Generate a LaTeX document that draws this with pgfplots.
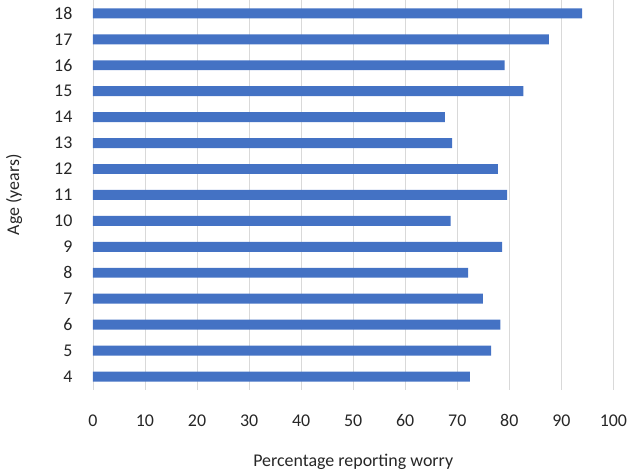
\documentclass[border=0pt]{standalone}
\usepackage{pgfplots}
\pgfplotsset{compat=1.18}
\usepackage{fontspec}
\setmainfont{Carlito}
\definecolor{barblue}{HTML}{4472C4}
\definecolor{gridgray}{HTML}{D9D9D9}
\begin{document}
\fontsize{18}{21}\selectfont
\begin{tikzpicture}
\begin{axis}[
  scale only axis,
  width=523pt, height=391pt,
  xbar,
  bar width=10pt,
  xmin=0, xmax=100,
  ymin=3.5, ymax=18.5,
  xtick={0,10,...,100},
  ytick={4,...,18},
  xmajorgrids,
  grid style={gridgray, line width=0.8pt},
  axis lines=left,
  axis line style={gridgray, line width=0.8pt, -},
  x axis line style={draw=none},
  major tick length=0pt,
  /pgf/number format/assume math mode=true,
  ticklabel style={font=\fontsize{18}{21}\selectfont, text=black!85},
  xticklabel style={yshift=-19pt},
  yticklabel style={xshift=-14.5pt},
  xlabel={Percentage reporting worry},
  ylabel={Age (years)},
  label style={font=\fontsize{18}{21}\selectfont, text=black!85},
  xlabel style={yshift=-15pt},
  ylabel style={yshift=20pt},
]
\addplot[fill=barblue, draw=none] coordinates {
(72.4,4) (76.5,5) (78.3,6) (74.9,7) (72.1,8) (78.6,9) (68.7,10) (79.6,11)
(77.8,12) (69.0,13) (67.6,14) (82.7,15) (79.1,16) (87.6,17) (94.0,18)
};
\end{axis}
\end{tikzpicture}
\end{document}
